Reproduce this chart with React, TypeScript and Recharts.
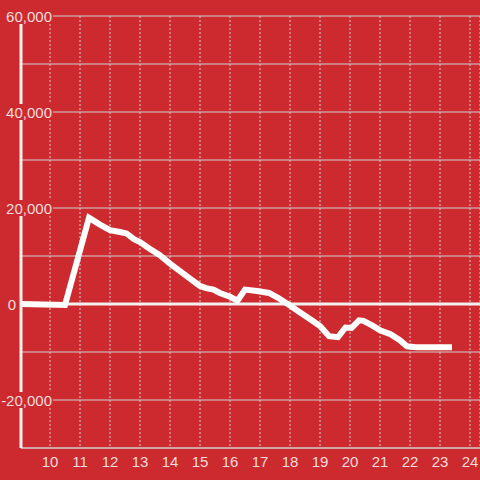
import { CartesianGrid, Line, LineChart, ReferenceLine, XAxis, YAxis } from "recharts";

const BG = "#cc2a2e";
const GRID = "#d2cfcf";
const TEXT = "#f4dcdc";
const FONT = "'Liberation Sans', Arial, sans-serif";

// hour of day
const hours = [
  9.05, 10.5, 11.3, 11.65, 12.0, 12.33, 12.55, 12.8, 13.0, 13.32, 13.65, 14.0, 14.3, 14.6, 14.99, 15.2,
  15.45, 15.66, 16.0, 16.25, 16.5, 16.9, 17.3, 17.6, 18.0, 18.3, 18.7, 19.0, 19.3, 19.6, 19.85, 20.05,
  20.3, 20.45, 20.75, 21.0, 21.35, 21.65, 21.9, 22.2, 23.4,
];
const values = [
  0, -200, 18000, 16600, 15400, 15000, 14700, 13500, 12900, 11500, 10200, 8400, 7000, 5600, 3800, 3300,
  3000, 2300, 1500, 700, 3000, 2700, 2300, 1300, -300, -1600, -3300, -4600, -6700, -6900, -4900, -5000,
  -3400, -3500, -4500, -5500, -6300, -7500, -8800, -9000, -9000,
];
const xTicks = [10, 11, 12, 13, 14, 15, 16, 17, 18, 19, 20, 21, 22, 23, 24];
const yTicks = [-30000, -20000, -10000, 0, 10000, 20000, 30000, 40000, 50000, 60000];

const data = hours.map((h, i) => ({ h, v: values[i] }));

function YTick({ y, payload }: any) {
  const v = payload.value as number;
  if (v % 20000 !== 0) return <g />;
  const style = { fill: TEXT, fontSize: 15, fontFamily: FONT };
  if (v === 0) {
    return (
      <text x={16} y={y} dy={5.5} textAnchor="end" {...style}>
        0
      </text>
    );
  }
  return (
    <g>
      <rect x={0} y={y - 8} width={53} height={16} fill={BG} />
      <text x={52} y={y} dy={5.5} textAnchor="end" {...style}>
        {v.toLocaleString("en-US")}
      </text>
    </g>
  );
}

export default function App() {
  return (
    <div style={{ position: "absolute", left: 0, top: 0, width: 480, height: 480, background: BG }}>
      <LineChart width={480} height={480} data={data} margin={{ top: 16, right: 0, bottom: 0, left: 0 }}>
        <CartesianGrid vertical={false} stroke={GRID} />
        <CartesianGrid horizontal={false} stroke={GRID} strokeDasharray="2 2" />
        <XAxis
          dataKey="h"
          type="number"
          domain={[9 + 1 / 30, 24 + 1 / 3]}
          allowDataOverflow
          ticks={xTicks}
          height={32}
          tickLine={false}
          axisLine={{ stroke: GRID }}
          tick={{ fill: TEXT, fontSize: 15, fontFamily: FONT }}
        />
        <YAxis
          type="number"
          domain={[-30000, 60000]}
          ticks={yTicks}
          width={21}
          tickLine={false}
          axisLine={{ stroke: "#f0eeee", strokeWidth: 3 }}
          tick={<YTick />}
        />
        <ReferenceLine y={0} stroke="#f3f0f0" strokeWidth={3} />
        <Line
          type="linear"
          dataKey="v"
          stroke="#ffffff"
          strokeWidth={6}
          dot={false}
          isAnimationActive={false}
        />
      </LineChart>
    </div>
  );
}
